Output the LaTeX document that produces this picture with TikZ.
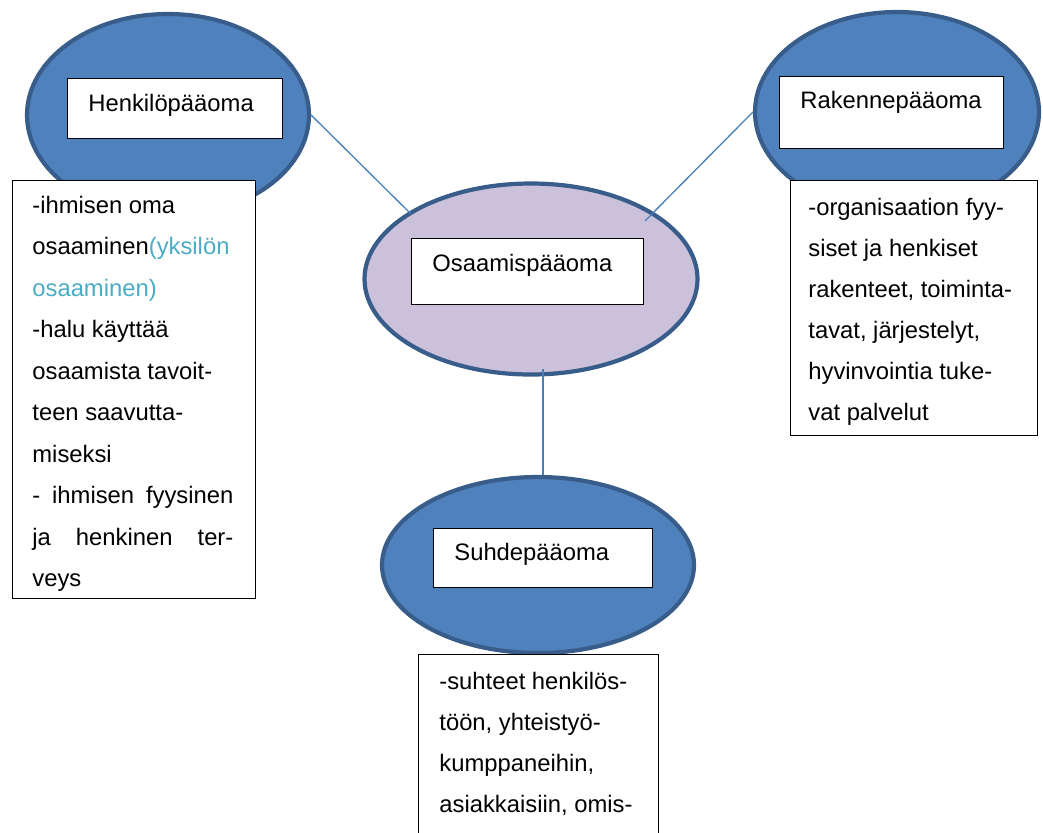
\documentclass[tikz,border=0pt]{standalone}
\usepackage{fontspec}
\setmainfont{Liberation Sans}
\usetikzlibrary{shapes.geometric}
\definecolor{capfill}{HTML}{4F81BD}
\definecolor{capedge}{HTML}{385D8A}
\definecolor{corefill}{HTML}{CCC1DA}
\definecolor{linkcol}{HTML}{4A7EBB}
\definecolor{notecol}{HTML}{4BACC6}
\begin{document}
\begin{tikzpicture}[x=0.5pt,y=-0.5pt,
  capital/.style={ellipse, draw=capedge, line width=2.1pt, fill=capfill, inner sep=0pt},
  core/.style={capital, fill=corefill},
  titlebox/.style={rectangle, draw=black, line width=0.6pt, fill=white, inner sep=0pt, anchor=north west},
  txt/.style={anchor=base west, inner sep=0pt, font=\fontsize{11.9pt}{14pt}\selectfont},
  link/.style={draw=linkcol, line width=0.65pt}]
\useasboundingbox (0,0) rectangle (1043,832);
\clip (0,0) rectangle (1043,832);

% the four capital ellipses
\node[capital, minimum width=141pt, minimum height=101pt] (hen) at (168,115) {};
\node[capital, minimum width=142pt, minimum height=100pt] (rak) at (897,112) {};
\node[core, minimum width=166.5pt, minimum height=95.5pt] (osa) at (531,279) {};
\node[capital, minimum width=156pt, minimum height=88pt] (suh) at (538,565) {};

% connectors
\coordinate (henEnd) at (411,214);
\coordinate (rakEnd) at (645,221);
\coordinate (osaLow) at (543,369);
\draw[link] (hen.east) -- (henEnd);
\draw[link] (rak.west) -- (rakEnd);
\draw[link] (osaLow) -- (osaLow |- suh.north);

% title boxes
\node[titlebox, minimum width=107.5pt, minimum height=30pt] (henT) at (67,78) {};
\node[txt] (henTL) at (88,111) {Henkilöpääoma};
\node[titlebox, minimum width=112pt, minimum height=36pt] (rakT) at (779,76) {};
\node[txt] (rakTL) at (800,108) {Rakennepääoma};
\node[titlebox, minimum width=116pt, minimum height=33pt] (osaT) at (411,238) {};
\node[txt] (osaTL) at (432,271) {Osaamispääoma};
\node[titlebox, minimum width=109.5pt, minimum height=29.5pt] (suhT) at (433,528) {};
\node[txt] (suhTL) at (454,560) {Suhdepääoma};

% description boxes
\node[titlebox, minimum width=121.5pt, minimum height=209pt] (henN) at (12,180) {};
\node[titlebox, minimum width=123.5pt, minimum height=127.5pt] (rakN) at (790,180) {};
\node[titlebox, minimum width=120pt, minimum height=100pt] (suhN) at (418,654) {};

\foreach \t [count=\i] in {
  {-ihmisen oma},
  {osaaminen{\color{notecol}(yksilön}},
  {{\color{notecol}osaaminen)}},
  {-halu käyttää},
  {osaamista tavoit-},
  {teen saavutta-},
  {miseksi},
  {\makebox[100.5pt][s]{- ihmisen fyysinen}},
  {\makebox[100.5pt][s]{ja henkinen ter-}},
  {veys}}
  \node[txt, name=henL\i] at (32,{213+41.5*(\i-1)}) {\t};

\foreach \t [count=\i] in {
  {-organisaation fyy-},
  {siset ja henkiset},
  {rakenteet, toiminta-},
  {tavat, järjestelyt,},
  {hyvinvointia tuke-},
  {vat palvelut}}
  \node[txt, name=rakL\i] at (808,{215+41*(\i-1)}) {\t};

\foreach \t [count=\i] in {
  {-suhteet henkilös-},
  {töön, yhteistyö-},
  {kumppaneihin,},
  {asiakkaisiin, omis-}}
  \node[txt, name=suhL\i] at (439,{689+41.3*(\i-1)}) {\t};
\end{tikzpicture}
\end{document}
